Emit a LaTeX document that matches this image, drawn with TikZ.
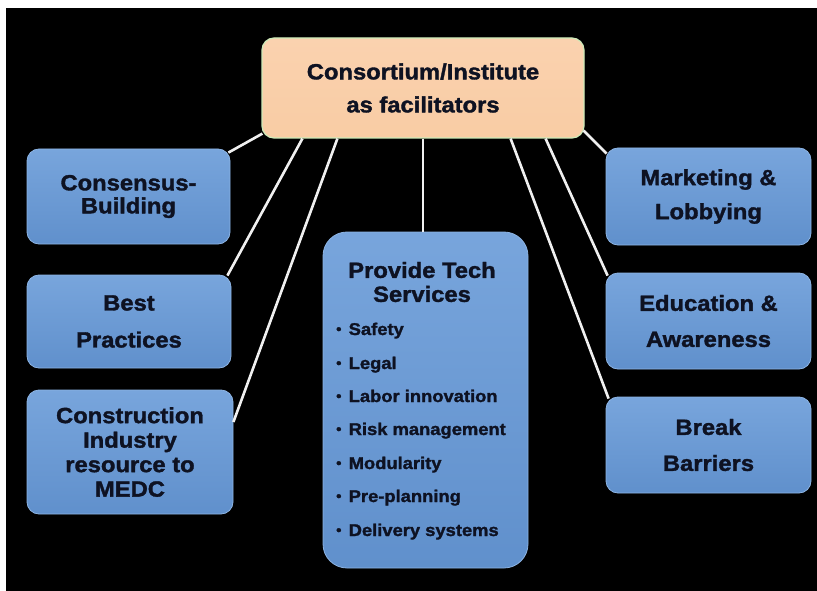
\documentclass[tikz,border=0pt]{standalone}
\usepackage{fontspec}
\setmainfont{Liberation Sans}[FakeStretch=1.08]
\newfontfamily\heavy{Liberation Sans Bold}[FakeStretch=1.08, FakeBold=1.6]
\definecolor{inkdark}{RGB}{14,18,34}
\definecolor{peach}{RGB}{249,204,164}
\definecolor{peachtop}{RGB}{250,210,175}
\definecolor{mint}{RGB}{205,235,185}
\definecolor{bluetop}{RGB}{120,165,220}
\definecolor{bluebot}{RGB}{96,144,204}
\definecolor{blueedge}{RGB}{140,180,228}
\newcommand{\bul}{\makebox[12.5pt][l]{\raisebox{1.2pt}{\fontsize{14}{14}\selectfont •}}}
\tikzset{
  x=1pt, y=-1pt,
  hub/.style={rounded corners=12pt, top color=peachtop, bottom color=peach,
    draw=mint, line width=1.2pt, inner sep=0pt, align=center,
    text=inkdark, font=\heavy\fontsize{22}{33}\selectfont},
  topic/.style={rounded corners=12pt, top color=bluetop, bottom color=bluebot,
    draw=blueedge, line width=0.8pt, inner sep=0pt, align=center,
    text=inkdark, font=\heavy\fontsize{22}{34}\selectfont},
  svcbox/.style={rounded corners=24pt, top color=bluetop, bottom color=bluebot,
    draw=blueedge, line width=0.8pt, inner sep=0pt},
  label/.style={text=inkdark, inner sep=0pt, align=center,
    font=\heavy\fontsize{22}{24}\selectfont},
  item/.style={text=inkdark, inner sep=0pt, anchor=base west,
    font=\heavy\fontsize{17}{20}\selectfont},
  link/.style={draw=white!94!black, line width=2.6pt}
}
\begin{document}
\begin{tikzpicture}
% page: thin white margin at top and left, black field
\fill[white] (0,0) rectangle (817,591);
\fill[black] (6,8) rectangle (817,591);
\useasboundingbox (0,0) rectangle (817,591);

% central facilitator
\node[hub, minimum width=322pt, minimum height=100pt] (hub) at (423,88)
  {Consortium/Institute\\as facilitators};

% left column
\node[topic, minimum width=203pt, minimum height=95pt,
      font=\heavy\fontsize{22}{23}\selectfont] (cons) at (128.5,196.5)
  {Consensus-\\Building};
\node[topic, minimum width=204pt, minimum height=93pt,
      font=\heavy\fontsize{22}{37}\selectfont] (best) at (129,321.5)
  {Best\\Practices};
\node[topic, minimum width=206pt, minimum height=124pt,
      font=\heavy\fontsize{22}{24.5}\selectfont] (constr) at (130,452)
  {Construction\\Industry\\resource to\\MEDC};

% right column
\node[topic, minimum width=205pt, minimum height=97pt] (mkt) at (708.5,196.5)
  {Marketing \&\\Lobbying};
\node[topic, minimum width=205pt, minimum height=96pt,
      font=\heavy\fontsize{22}{36}\selectfont] (edu) at (708.5,321)
  {Education \&\\Awareness};
\node[topic, minimum width=205pt, minimum height=96pt,
      font=\heavy\fontsize{22}{36}\selectfont] (brk) at (708.5,445)
  {Break\\Barriers};

% technical services column
\node[svcbox, minimum width=205pt, minimum height=336pt] (svc) at (425.5,400) {};
\node[label] (svctitle) at (422,282) {Provide Tech\\Services};
\foreach \i/\yy/\txt in {1/335/Safety, 2/369/Legal, 3/402/Labor innovation,
    4/435/Risk management, 5/469/Modularity, 6/502/Pre-planning,
    7/536/Delivery systems}
  \node[item] (b\i) at (336,\yy) {\bul\txt};

% connectors from the facilitator
\draw[link] ([xshift=1pt,yshift=5pt]hub.south west) -- ([xshift=-2pt,yshift=-4pt]cons.north east);
\draw[link] ([xshift=41pt]hub.south west) -- ([xshift=-4pt,yshift=-1pt]best.north east);
\draw[link] ([xshift=76pt]hub.south west) -- ([yshift=30pt]constr.east);
\draw[link] (hub.south) -- (hub.south |- svc.north);
\draw[link] ([xshift=-74pt]hub.south east) -- ([xshift=3pt,yshift=-2pt]brk.north west);
\draw[link] ([xshift=-39pt]hub.south east) -- ([xshift=2pt,yshift=-3pt]edu.north west);
\draw[link] ([xshift=-1pt,yshift=8pt]hub.south east) -- ([xshift=1pt,yshift=-6pt]mkt.north west);
\end{tikzpicture}
\end{document}
